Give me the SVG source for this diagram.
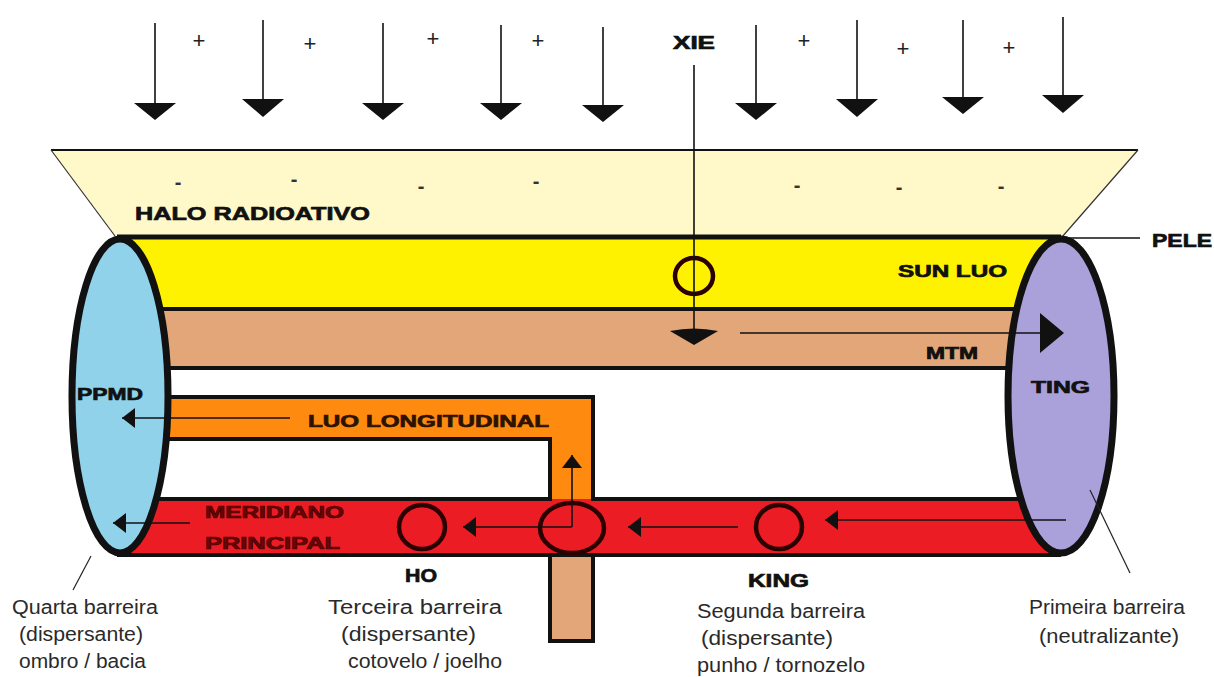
<svg xmlns="http://www.w3.org/2000/svg" width="1214" height="677" viewBox="0 0 1214 677">
<style>
.lbl{font-family:"Liberation Sans",Arial,sans-serif;font-weight:bold;fill:#111;stroke:#111;stroke-width:0.7;}
.cap{font-family:"Liberation Sans",Arial,sans-serif;font-size:20px;fill:#2a2a2a;}
.sign{font-family:"Liberation Sans",Arial,sans-serif;font-size:22px;fill:#222;}
.minus{font-family:"Liberation Sans",Arial,sans-serif;font-size:20px;font-weight:bold;fill:#333;}
.thin{stroke:#111;stroke-width:1.6;fill:none;}
.band-line{stroke:#111;stroke-width:4;fill:none;}
.head{fill:#111;}
.ring{fill:none;stroke:#2a0000;stroke-width:4.5;}
</style>
<defs>
<marker id="ah" viewBox="0 0 13 20" refX="13" refY="10" markerWidth="13" markerHeight="20" markerUnits="userSpaceOnUse" orient="auto">
<path d="M0,0 L13,10 L0,20 Z" fill="#111"/>
</marker>
</defs>
<rect width="1214" height="677" fill="#fff"/>

<g id="halo">
<polygon points="51,150 1138,150 1062,237 117,237" fill="#FFF8C8"/>
<line x1="51" y1="150" x2="1138" y2="150" stroke="#111" stroke-width="2"/>
<line x1="51" y1="150" x2="115" y2="236" stroke="#333" stroke-width="1.2"/>
<line x1="1138" y1="150" x2="1062" y2="237" stroke="#333" stroke-width="1.2"/>
<text class="minus" x="178" y="189" text-anchor="middle">-</text>
<text class="minus" x="294" y="186" text-anchor="middle">-</text>
<text class="minus" x="421" y="193" text-anchor="middle">-</text>
<text class="minus" x="536" y="188" text-anchor="middle">-</text>
<text class="minus" x="797" y="192" text-anchor="middle">-</text>
<text class="minus" x="899" y="194" text-anchor="middle">-</text>
<text class="minus" x="1001" y="193" text-anchor="middle">-</text>
<text class="lbl" x="135" y="220" font-size="19" textLength="235" lengthAdjust="spacingAndGlyphs">HALO RADIOATIVO</text>
</g>

<g id="radiation">
<line class="thin" x1="155" y1="23" x2="155" y2="104"/><polygon class="head" points="134,103 176,103 155,120"/>
<line class="thin" x1="263" y1="20" x2="263" y2="100"/><polygon class="head" points="242,99 284,99 263,117"/>
<line class="thin" x1="383" y1="23" x2="383" y2="104"/><polygon class="head" points="362,103 404,103 383,120"/>
<line class="thin" x1="501" y1="25" x2="501" y2="104"/><polygon class="head" points="480,103 522,103 501,120"/>
<line class="thin" x1="603" y1="27" x2="603" y2="106"/><polygon class="head" points="582,105 624,105 603,122"/>
<line class="thin" x1="756" y1="25" x2="756" y2="104"/><polygon class="head" points="735,103 777,103 756,120"/>
<line class="thin" x1="857" y1="20" x2="857" y2="100"/><polygon class="head" points="836,99 878,99 857,117"/>
<line class="thin" x1="963" y1="20" x2="963" y2="98"/><polygon class="head" points="942,97 984,97 963,114"/>
<line class="thin" x1="1063" y1="17" x2="1063" y2="96"/><polygon class="head" points="1042,95 1084,95 1063,113"/>
<text class="sign" x="199" y="48" text-anchor="middle">+</text>
<text class="sign" x="310" y="51" text-anchor="middle">+</text>
<text class="sign" x="433" y="46" text-anchor="middle">+</text>
<text class="sign" x="538" y="48" text-anchor="middle">+</text>
<text class="sign" x="804" y="48" text-anchor="middle">+</text>
<text class="sign" x="903" y="56" text-anchor="middle">+</text>
<text class="sign" x="1009" y="55" text-anchor="middle">+</text>
</g>

<g id="band-sun-luo">
<rect x="117" y="237" width="944" height="72" fill="#FFF200"/>
</g>
<g id="band-mtm">
<rect x="117" y="309" width="944" height="58" fill="#E2A679"/>
</g>
<g id="band-luo-longitudinal">
<path d="M117,397 H593 V499 H550 V439 H117 Z" fill="#FF8A10"/>
<path class="band-line" d="M117,397 H593 V499"/>
<path class="band-line" d="M117,439 H550 V499"/>
</g>
<g id="band-meridiano">
<rect x="117" y="499" width="944" height="56" fill="#EC1C24"/>
<line class="band-line" x1="117" y1="499" x2="552" y2="499"/>
<line class="band-line" x1="591" y1="499" x2="1061" y2="499"/>
<line class="band-line" x1="117" y1="555" x2="1061" y2="555"/>
</g>
<g id="stub">
<rect x="550" y="555" width="43" height="86" fill="#E2A679" stroke="#111" stroke-width="4"/>
</g>
<g id="band-borders">
<line x1="117" y1="237" x2="1061" y2="237" stroke="#111" stroke-width="5"/>
<line class="band-line" x1="117" y1="309" x2="1061" y2="309"/>
<line class="band-line" x1="117" y1="368" x2="1061" y2="368"/>
</g>

<g id="ppmd">
<ellipse cx="120" cy="396" rx="48" ry="157" fill="#90D2EA" stroke="#111" stroke-width="7"/>
<text class="lbl" x="77" y="400" font-size="17" textLength="66" lengthAdjust="spacingAndGlyphs">PPMD</text>
</g>
<g id="ting">
<ellipse cx="1061" cy="396" rx="53" ry="157" fill="#AAA0DA" stroke="#111" stroke-width="7"/>
<text class="lbl" x="1031" y="393" font-size="17" textLength="59" lengthAdjust="spacingAndGlyphs">TING</text>
</g>

<g id="pele">
<line x1="1062" y1="238" x2="1140" y2="238" stroke="#111" stroke-width="1.6"/>
<text class="lbl" x="1152" y="247" font-size="19" textLength="60" lengthAdjust="spacingAndGlyphs">PELE</text>
</g>

<g id="xie">
<text class="lbl" x="673" y="49" font-size="18" textLength="42" lengthAdjust="spacingAndGlyphs">XIE</text>
<ellipse class="ring" cx="694" cy="276" rx="19" ry="18" stroke="#111"/>
</g>

<g id="ho">
<ellipse class="ring" cx="422" cy="527" rx="23" ry="22"/>
<text class="lbl" x="405" y="582" font-size="19" textLength="32" lengthAdjust="spacingAndGlyphs">HO</text>
</g>
<g id="junction">
<ellipse class="ring" cx="572" cy="528" rx="32" ry="25"/>
</g>
<g id="king">
<ellipse class="ring" cx="779" cy="527" rx="23" ry="22"/>
<text class="lbl" x="748" y="587" font-size="19" textLength="61" lengthAdjust="spacingAndGlyphs">KING</text>
</g>

<g id="labels">
<text class="lbl" x="898" y="277" font-size="17" textLength="109" lengthAdjust="spacingAndGlyphs">SUN LUO</text>
<text class="lbl" x="926" y="359" font-size="16" textLength="52" lengthAdjust="spacingAndGlyphs">MTM</text>
<text class="lbl" x="308" y="427" font-size="17" textLength="241" lengthAdjust="spacingAndGlyphs" style="fill:#2e1200;stroke:#2e1200">LUO LONGITUDINAL</text>
<text class="lbl" x="205" y="518" font-size="16" textLength="139" lengthAdjust="spacingAndGlyphs" style="fill:#6a0606;stroke:#4a0000">MERIDIANO</text>
<text class="lbl" x="205" y="549" font-size="16" textLength="135" lengthAdjust="spacingAndGlyphs" style="fill:#6a0606;stroke:#4a0000">PRINCIPAL</text>
</g>

<g id="captions">
<text class="cap" x="12" y="614" textLength="146" lengthAdjust="spacingAndGlyphs">Quarta barreira</text>
<text class="cap" x="19" y="641" textLength="124" lengthAdjust="spacingAndGlyphs">(dispersante)</text>
<text class="cap" x="19" y="668" textLength="127" lengthAdjust="spacingAndGlyphs">ombro / bacia</text>
<text class="cap" x="328" y="614" textLength="174" lengthAdjust="spacingAndGlyphs">Terceira barreira</text>
<text class="cap" x="341" y="641" textLength="135" lengthAdjust="spacingAndGlyphs">(dispersante)</text>
<text class="cap" x="348" y="668" textLength="154" lengthAdjust="spacingAndGlyphs">cotovelo / joelho</text>
<text class="cap" x="697" y="618" textLength="168" lengthAdjust="spacingAndGlyphs">Segunda barreira</text>
<text class="cap" x="701" y="645" textLength="132" lengthAdjust="spacingAndGlyphs">(dispersante)</text>
<text class="cap" x="697" y="672" textLength="168" lengthAdjust="spacingAndGlyphs">punho / tornozelo</text>
<text class="cap" x="1029" y="614" textLength="156" lengthAdjust="spacingAndGlyphs">Primeira barreira</text>
<text class="cap" x="1039" y="643" textLength="140" lengthAdjust="spacingAndGlyphs">(neutralizante)</text>
</g>

<g id="connectors">
<line class="thin" x1="694" y1="65" x2="694" y2="333"/>
<path class="head" d="M670,331 Q694,326 718,331 L694,345 Z"/>
<line class="thin" x1="740" y1="333" x2="1042" y2="333"/>
<polygon class="head" points="1040,313 1064,333 1040,353"/>
<line class="thin" x1="290" y1="418" x2="122" y2="418" marker-end="url(#ah)"/>
<line class="thin" x1="190" y1="523" x2="113" y2="523" marker-end="url(#ah)"/>
<line class="thin" x1="572" y1="527" x2="463" y2="527" marker-end="url(#ah)"/>
<line class="thin" x1="572" y1="527" x2="572" y2="455" marker-end="url(#ah)"/>
<line class="thin" x1="738" y1="527" x2="628" y2="527" marker-end="url(#ah)"/>
<line class="thin" x1="1066" y1="520" x2="825" y2="520" marker-end="url(#ah)"/>
<line x1="91" y1="556" x2="73" y2="590" stroke="#222" stroke-width="1.2"/>
<line x1="1090" y1="490" x2="1130" y2="573" stroke="#222" stroke-width="1.2"/>
</g>
</svg>
